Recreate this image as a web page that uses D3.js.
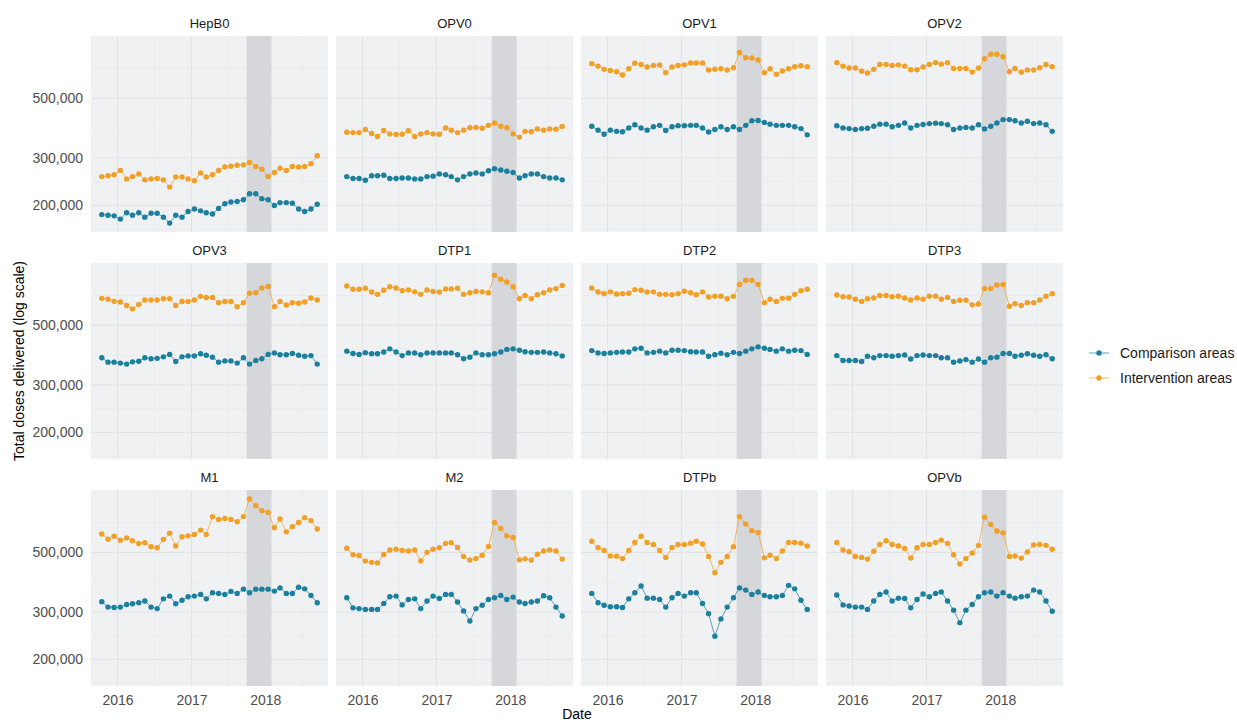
<!DOCTYPE html>
<html>
<head>
<meta charset="utf-8">
<script src="https://cdn.jsdelivr.net/npm/d3@7"></script>
<style>
  body { margin: 0; background: #fff; }
  svg { font-family: "Liberation Sans", Arial, sans-serif; }
</style>
</head>
<body>
<svg id="chart" width="1237" height="722"></svg>
<script>
// monthly points, Oct 2015 - Sep 2018
const months = ["2015-10","2015-11","2015-12","2016-01","2016-02","2016-03","2016-04","2016-05","2016-06",
  "2016-07","2016-08","2016-09","2016-10","2016-11","2016-12","2017-01","2017-02","2017-03","2017-04",
  "2017-05","2017-06","2017-07","2017-08","2017-09","2017-10","2017-11","2017-12","2018-01","2018-02",
  "2018-03","2018-04","2018-05","2018-06","2018-07","2018-08","2018-09"]

const vaccines = ["HepB0","OPV0","OPV1","OPV2","OPV3","DTP1","DTP2","DTP3","M1","M2","DTPb","OPVb"]
const seriesNames = ["Comparison areas", "Intervention areas"]
const yTicks = [200000, 300000, 500000]
const xTicks = ["2016-01-01", "2017-01-01", "2018-01-01"]
const shade = ["2017-10-01", "2018-02-01"]

// doses, thousands
const hepb0Comp = [185,184,183,178,188,184,188,181,187,187,181,172,184,181,190,194,191,188,186,195,203,206,207,210,221,221,212,210,200,205,205,204,194,190,194,202]
const hepb0Intv = [256,258,260,270,251,256,262,249,251,252,249,234,255,255,251,247,264,255,260,270,278,280,282,283,289,279,273,256,265,275,270,279,278,279,286,306]
const opv0Comp = [256,252,252,248,258,258,259,252,252,253,253,251,251,256,257,262,260,256,249,256,262,264,262,269,274,271,268,265,253,258,262,262,256,253,253,249]
const opv0Intv = [374,373,373,383,370,361,380,369,367,368,379,361,369,373,369,368,388,381,373,381,389,390,387,397,405,394,389,369,359,377,376,385,381,385,384,393]
const opv1Comp = [394,381,368,381,377,376,388,399,388,381,392,397,380,392,396,396,397,397,388,375,383,392,383,392,383,397,413,414,407,401,397,397,397,392,386,366]
const opv1Intv = [673,659,641,635,628,611,644,675,668,654,663,665,623,654,663,666,677,677,677,637,642,644,637,650,740,708,706,694,623,644,614,632,644,656,661,656]
const opv2Comp = [396,388,386,383,386,387,394,401,401,392,397,405,388,397,400,403,404,403,399,383,388,390,388,399,385,394,405,417,417,413,405,411,403,405,399,377]
const opv2Intv = [679,659,648,648,631,621,641,668,668,663,666,659,639,639,654,668,679,670,679,646,646,646,626,648,702,729,729,714,628,646,625,637,637,650,668,656]
const opv3Comp = [379,365,365,362,359,366,368,379,376,377,382,390,367,382,385,385,392,387,381,365,369,369,362,379,359,370,376,390,395,389,389,393,387,384,386,359]
const opv3Intv = [630,625,614,611,593,576,598,621,621,621,628,628,593,613,613,621,641,635,635,607,613,613,586,607,658,661,688,698,586,613,595,607,604,611,632,621]
const dtp1Comp = [401,393,390,396,392,392,398,409,398,386,395,395,389,395,395,395,395,395,389,376,381,395,389,389,392,398,407,409,404,399,397,397,398,395,392,385]
const dtp1Intv = [700,681,681,687,665,652,675,696,688,673,677,666,652,677,668,665,683,683,687,652,661,668,666,661,767,742,725,696,628,646,628,650,661,677,685,704]
const dtp2Comp = [403,395,393,395,397,398,398,409,411,395,397,401,395,404,404,403,399,398,398,384,389,394,389,397,393,401,409,416,411,407,401,409,401,404,403,390]
const dtp2Intv = [688,665,656,666,654,656,658,679,675,665,666,652,652,650,656,670,661,650,666,637,642,642,628,641,710,736,736,710,607,625,613,630,631,652,673,681]
const dtp3Comp = [386,370,370,370,367,384,379,386,386,384,386,388,375,386,388,386,386,379,379,365,369,373,365,375,365,379,381,393,393,384,387,392,387,384,389,376]
const dtp3Intv = [648,639,637,625,613,628,632,646,646,639,642,632,621,632,625,642,642,625,635,613,620,620,596,600,685,685,706,710,589,602,593,607,607,621,642,656]
const m1Comp = [328,313,312,313,320,322,325,330,313,309,336,344,322,332,342,344,349,336,354,352,349,358,352,365,354,365,365,365,359,369,352,352,371,366,346,325]
const m1Intv = [585,560,574,555,566,552,540,543,525,520,559,589,528,572,576,583,605,583,679,663,668,663,650,679,790,745,714,704,617,665,596,623,646,673,656,611]
const m2Comp = [339,311,309,307,307,307,323,342,344,319,334,336,309,330,344,337,349,349,327,303,278,309,318,334,339,346,334,341,327,323,327,330,345,339,313,290]
const m2Intv = [518,490,487,464,459,457,491,510,514,508,506,510,465,500,514,520,540,543,521,483,468,474,488,526,646,613,576,568,469,473,468,492,506,510,506,472]
const dtpbComp = [352,325,318,314,314,312,336,354,375,338,338,334,313,339,352,344,354,354,323,296,244,283,313,339,369,362,349,356,346,342,342,346,377,366,332,307]
const dtpbIntv = [550,520,508,485,484,474,508,544,574,544,535,508,479,521,535,535,541,550,537,483,420,459,483,525,679,637,602,593,477,488,474,506,544,544,541,528]
const opvbComp = [347,319,316,313,313,307,330,349,356,330,338,337,311,334,350,342,352,356,330,305,274,305,320,342,354,356,344,354,344,338,342,344,362,356,330,302]
const opvbIntv = [544,510,503,483,479,472,505,535,552,535,528,517,476,520,535,535,544,555,540,490,453,474,497,531,675,635,600,591,483,485,476,502,533,535,531,514]

const comparison = [hepb0Comp, opv0Comp, opv1Comp, opv2Comp, opv3Comp, dtp1Comp, dtp2Comp, dtp3Comp, m1Comp, m2Comp, dtpbComp, opvbComp]
const intervention = [hepb0Intv, opv0Intv, opv1Intv, opv2Intv, opv3Intv, dtp1Intv, dtp2Intv, dtp3Intv, m1Intv, m2Intv, dtpbIntv, opvbIntv]

const colors = ["#1b7f9e", "#f19f26"]

// layout
const left0 = 91, top0 = 36, pw = 237, ph = 196, gapX = 8, gapY = 31, ncol = 4

const svg = d3.select("#chart")

const parseMonth = s => { const [y, m] = s.split("-").map(Number); return new Date(Date.UTC(y, m - 1, 15)) }
const parseDay = s => new Date(s + "T00:00:00Z")
const dates = months.map(parseMonth)

// x scale with 5% expansion like ggplot
const t0 = +dates[0], t1 = +dates[dates.length - 1]
const padX = (t1 - t0) * 0.05
const x = d3.scaleUtc().domain([new Date(t0 - padX), new Date(t1 + padX)]).range([0, pw])

// log y with 5% expansion in log space
const allVals = comparison.concat(intervention).flat().map(v => v * 1000)
const lo = d3.min(allVals), hi = d3.max(allVals)
const pad = Math.pow(hi / lo, 0.05)
const y = d3.scaleLog().domain([lo / pad, hi * pad]).range([ph, 0])

// minor breaks: midpoints in transformed space
const ext = [yTicks[0] * yTicks[0] / yTicks[1]].concat(yTicks, [yTicks[2] * yTicks[2] / yTicks[1]])
const yMinor = d3.pairs(ext).map(([a, b]) => Math.sqrt(a * b))
  .filter(v => v >= y.domain()[0] && v <= y.domain()[1])
const xMajor = xTicks.map(parseDay)
const xExt = [parseDay("2015-01-01")].concat(xMajor, [parseDay("2019-01-01")])
const xMinor = d3.pairs(xExt).map(([a, b]) => new Date((+a + +b) / 2))
  .filter(d => d >= x.domain()[0] && d <= x.domain()[1])

vaccines.forEach((name, i) => {
  const col = i % ncol, row = Math.floor(i / ncol)
  const g = svg.append("g")
    .attr("transform", `translate(${left0 + col * (pw + gapX)},${top0 + row * (ph + gapY)})`)

  g.append("rect").attr("width", pw).attr("height", ph).attr("fill", "#eff1f2")

  g.selectAll(".ymin").data(yMinor).enter().append("line")
    .attr("x1", 0).attr("x2", pw).attr("y1", d => y(d)).attr("y2", d => y(d))
    .attr("stroke", "#e6e8ea").attr("stroke-width", 0.6)
  g.selectAll(".xmin").data(xMinor).enter().append("line")
    .attr("y1", 0).attr("y2", ph).attr("x1", d => x(d)).attr("x2", d => x(d))
    .attr("stroke", "#e6e8ea").attr("stroke-width", 0.6)
  g.selectAll(".ymaj").data(yTicks).enter().append("line")
    .attr("x1", 0).attr("x2", pw).attr("y1", d => y(d)).attr("y2", d => y(d))
    .attr("stroke", "#e1e3e6").attr("stroke-width", 1.1)
  g.selectAll(".xmaj").data(xMajor).enter().append("line")
    .attr("y1", 0).attr("y2", ph).attr("x1", d => x(d)).attr("x2", d => x(d))
    .attr("stroke", "#e1e3e6").attr("stroke-width", 1.1)

  g.append("rect")
    .attr("x", x(parseDay(shade[0]))).attr("width", x(parseDay(shade[1])) - x(parseDay(shade[0])))
    .attr("y", 0).attr("height", ph).attr("fill", "#d5d7da")

  // strip label
  g.append("text").attr("x", pw / 2).attr("y", -8).attr("text-anchor", "middle")
    .attr("font-size", 13).attr("fill", "#1a1a1a").text(name)

  const line = d3.line().x((d, j) => x(dates[j])).y(d => y(d * 1000))
  ;[comparison[i], intervention[i]].forEach((vals, s) => {
    g.append("path").datum(vals).attr("d", line)
      .attr("fill", "none").attr("stroke", colors[s]).attr("stroke-width", 1).attr("stroke-opacity", 0.7)
    g.selectAll(".pt" + s).data(vals).enter().append("circle")
      .attr("cx", (d, j) => x(dates[j])).attr("cy", d => y(d * 1000)).attr("r", 2.7)
      .attr("fill", colors[s])
  })

  if (col === 0) {
    const ya = g.append("g").call(d3.axisLeft(y).tickValues(yTicks).tickSize(0).tickPadding(8)
      .tickFormat(d3.format(",")))
    ya.select(".domain").remove()
    ya.selectAll("text").attr("font-size", 14).attr("fill", "#4d4d4d")
      .attr("font-family", "Liberation Sans, Arial, sans-serif")
  }
  if (row === 2) {
    const xa = g.append("g").attr("transform", `translate(0,${ph})`)
      .call(d3.axisBottom(x).tickValues(xMajor).tickSize(0).tickPadding(9).tickFormat(d3.utcFormat("%Y")))
    xa.select(".domain").remove()
    xa.selectAll("text").attr("font-size", 14).attr("fill", "#4d4d4d")
      .attr("font-family", "Liberation Sans, Arial, sans-serif")
  }
})

// axis titles
const plotW = ncol * pw + (ncol - 1) * gapX
svg.append("text").attr("x", left0 + plotW / 2).attr("y", 719).attr("text-anchor", "middle")
  .attr("font-size", 14).attr("fill", "#000").text("Date")
svg.append("text").attr("transform", `translate(24,${top0 + (3 * ph + 2 * gapY) / 2}) rotate(-90)`)
  .attr("text-anchor", "middle").attr("font-size", 14).attr("fill", "#000")
  .text("Total doses delivered (log scale)")

// legend
const leg = svg.append("g").attr("transform", "translate(1089,353)")
seriesNames.forEach((nm, s) => {
  const lg = leg.append("g").attr("transform", `translate(0,${s * 25})`)
  lg.append("line").attr("x1", 0).attr("x2", 20).attr("stroke", colors[s]).attr("stroke-width", 1).attr("stroke-opacity", 0.7)
  lg.append("circle").attr("cx", 10).attr("r", 2.7).attr("fill", colors[s])
  lg.append("text").attr("x", 31).attr("dy", "0.35em").attr("font-size", 14).attr("fill", "#1a1a1a").text(nm)
})
</script>
</body>
</html>
